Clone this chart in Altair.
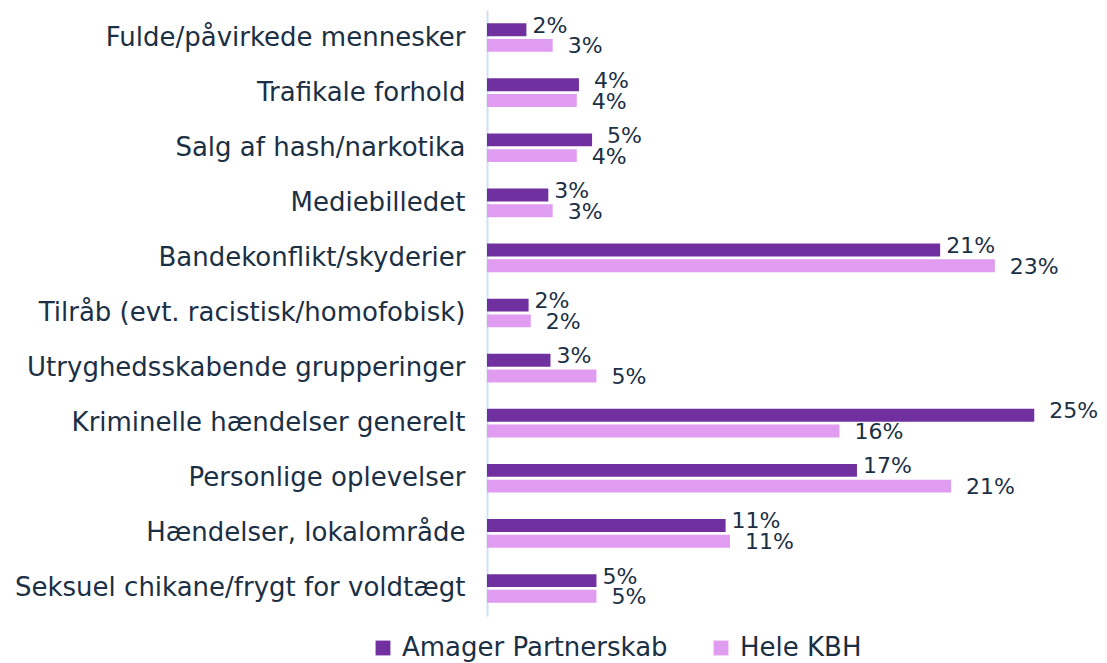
import altair as alt
import pandas as pd

categories = [
    "Fulde/påvirkede mennesker",
    "Trafikale forhold",
    "Salg af hash/narkotika",
    "Mediebilledet",
    "Bandekonflikt/skyderier",
    "Tilråb (evt. racistisk/homofobisk)",
    "Utryghedsskabende grupperinger",
    "Kriminelle hændelser generelt",
    "Personlige oplevelser",
    "Hændelser, lokalområde",
    "Seksuel chikane/frygt for voldtægt",
]
series = ["Amager Partnerskab", "Hele KBH"]
amager = [1.8, 4.2, 4.8, 2.8, 20.7, 1.9, 2.9, 25.0, 16.9, 10.9, 5.0]
hele_kbh = [3.0, 4.1, 4.1, 3.0, 23.2, 2.0, 5.0, 16.1, 21.2, 11.1, 5.0]
colors = ["#7030A0", "#E09CF0"]
text_color = "#1B2F45"
font = "DejaVu Sans"

rows = []
for c, a, h in zip(categories, amager, hele_kbh):
    rows.append({"kategori": c, "serie": series[0], "andel": a})
    rows.append({"kategori": c, "serie": series[1], "andel": h})
df = pd.DataFrame(rows)

y_enc = alt.Y("kategori:N", sort=categories,
              scale=alt.Scale(paddingInner=0.48, paddingOuter=0.24),
              axis=alt.Axis(title=None, ticks=False, labelFontSize=26, labelFont=font,
                            labelColor=text_color, labelPadding=22, labelLimit=480,
                            domainColor="#CFE2F3", domainWidth=2))
yoff = alt.YOffset("serie:N", sort=series, scale=alt.Scale(paddingInner=0.18))
x_enc = alt.X("andel:Q", scale=alt.Scale(domain=[0, 27.5]), axis=None)

bars = alt.Chart(df).mark_bar().encode(
    y=y_enc, yOffset=yoff, x=x_enc,
    color=alt.Color("serie:N", sort=series,
                    scale=alt.Scale(domain=series, range=colors),
                    legend=alt.Legend(title=None, orient="none", direction="horizontal",
                                      legendX=-117, legendY=625, labelFontSize=26,
                                      labelFont=font, labelColor=text_color,
                                      labelLimit=400,
                                      symbolType="square", symbolSize=220,
                                      symbolStrokeWidth=0, columnPadding=40,
                                      labelOffset=6)),
)

base_labels = alt.Chart(df).transform_joinaggregate(
    maxv="max(andel)", minv="min(andel)", groupby=["kategori"]
).transform_calculate(
    txt="format(datum.andel, '.0f') + '%'",
    lang="datum.andel > datum.minv || datum.serie == 'Hele KBH'",
)

layers = []
for s, dy in zip(series, [-4, 1]):
    for is_long, dx in [(True, 15), (False, 6)]:
        cond = f"datum.serie == '{s}' && datum.lang == {'true' if is_long else 'false'}"
        layers.append(
            base_labels.transform_filter(cond).mark_text(
                align="left", baseline="middle", dx=dx, dy=dy, fontSize=22,
                font=font, color=text_color
            ).encode(y=y_enc, yOffset=yoff, x=x_enc, text="txt:N")
        )

chart = alt.layer(bars, *layers).properties(
    width=602, height=606,
    autosize=alt.AutoSizeParams(type="none"),
    padding={"left": 479, "top": 2, "right": 10, "bottom": 47},
).configure_view(stroke=None)

chart.save("out.html", embed_options={"renderer": "svg", "actions": False})
